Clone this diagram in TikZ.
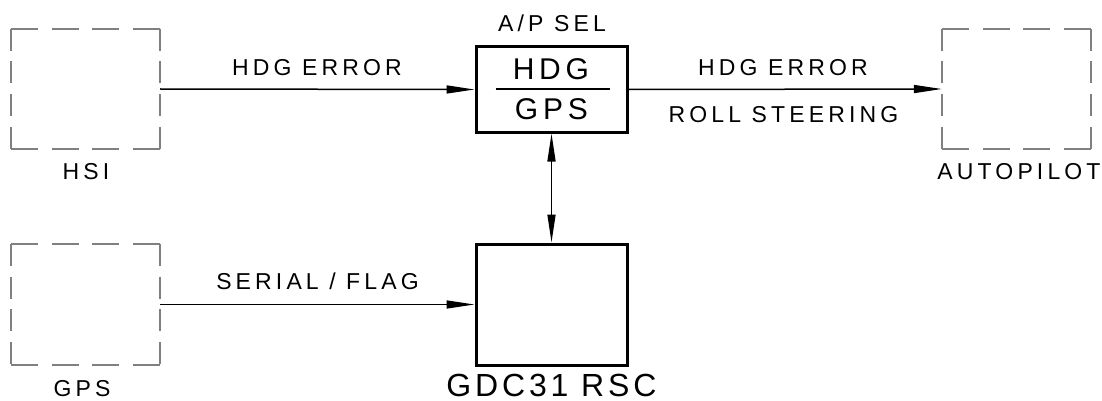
\documentclass[tikz,border=0pt]{standalone}
\usepackage{fontspec}
\newfontfamily\lblfont{Liberation Sans}[LetterSpace=18]
\newfontfamily\bigfont{Liberation Sans}[LetterSpace=16]
\newfontfamily\gdcfont{Liberation Sans}[LetterSpace=12]
\usetikzlibrary{arrows.meta}
\tikzset{
  ghost/.style={inner sep=0pt, minimum width=149pt, minimum height=120pt},
  hd/.style={draw=black!50, line width=1.5pt, dash pattern=on 27pt off 13.7pt},
  vd/.style={draw=black!50, line width=1.5pt, dash pattern=on 22pt off 10.7pt},
  solidbox/.style={draw=black, line width=3pt, inner sep=0pt, minimum width=151pt},
  conn/.style={draw=black, line width=1.5pt, -{Triangle[length=28pt,width=8pt]}},
  biconn/.style={draw=black, line width=1.5pt, {Triangle[length=28pt,width=8pt]}-{Triangle[length=28pt,width=8pt]}},
  lbl/.style={inner sep=0pt, anchor=base, text depth=0pt, xshift=2pt, font=\lblfont\fontsize{23}{26}\selectfont},
  big/.style={inner sep=0pt, anchor=base, text depth=0pt, xshift=2.4pt, font=\bigfont\fontsize{30}{34}\selectfont},
  gdclbl/.style={inner sep=0pt, anchor=base, text depth=0pt, xshift=2pt, font=\gdcfont\fontsize{32}{36}\selectfont}
}
\begin{document}
\begin{tikzpicture}[x=1pt,y=-1pt]
\useasboundingbox (0,0) rectangle (1102,401);
% dashed external units
\node[ghost] (hsi) at (85.5,89) {};
\node[ghost] (auto) at (1016.5,89) {};
\node[ghost, minimum height=121pt] (gps) at (85.5,304.5) {};
\foreach \n in {hsi,auto,gps}{
  \draw[hd] (\n.north west) -- (\n.north east);
  \draw[hd] (\n.south west) -- (\n.south east);
  \draw[vd] (\n.north west) -- (\n.south west);
  \draw[vd] (\n.north east) -- (\n.south east);
}
% solid boxes
\node[solidbox, minimum height=85pt] (apsel) at (551.5,89.5) {};
\node[solidbox, minimum height=121pt] (gdc) at (551.5,304.5) {};
\draw[line width=2pt] ([xshift=21pt]apsel.west) -- ([xshift=-19pt]apsel.east);
% connectors
\draw[conn] (hsi.east) -- (apsel.west);
\draw[conn] (apsel.east) -- (auto.west);
\draw[conn] (gps.east) -- (gdc.west);
\draw[biconn] (apsel.south) -- (gdc.north);
% labels
\node[lbl] (t1) at (315,76) {HDG ERROR};
\node[lbl] (t2) at (781,76) {HDG ERROR};
\node[lbl] (t3) at (781.5,122) {ROLL STEERING};
\node[lbl] (t4) at (315.5,289) {SERIAL / FLAG};
\node[lbl] (t5) at (550,32) {A/P SEL};
\node[lbl] (t6) at (84,179) {HSI};
\node[lbl] (t7) at (1017,179) {AUTOPILOT};
\node[lbl] (t8) at (80,396) {GPS};
\node[big] (t9) at (548.5,80) {HDG};
\node[big] (t10) at (549,120) {GPS};
\node[gdclbl] (t11) at (549.5,396) {GDC31 RSC};
\end{tikzpicture}
\end{document}
